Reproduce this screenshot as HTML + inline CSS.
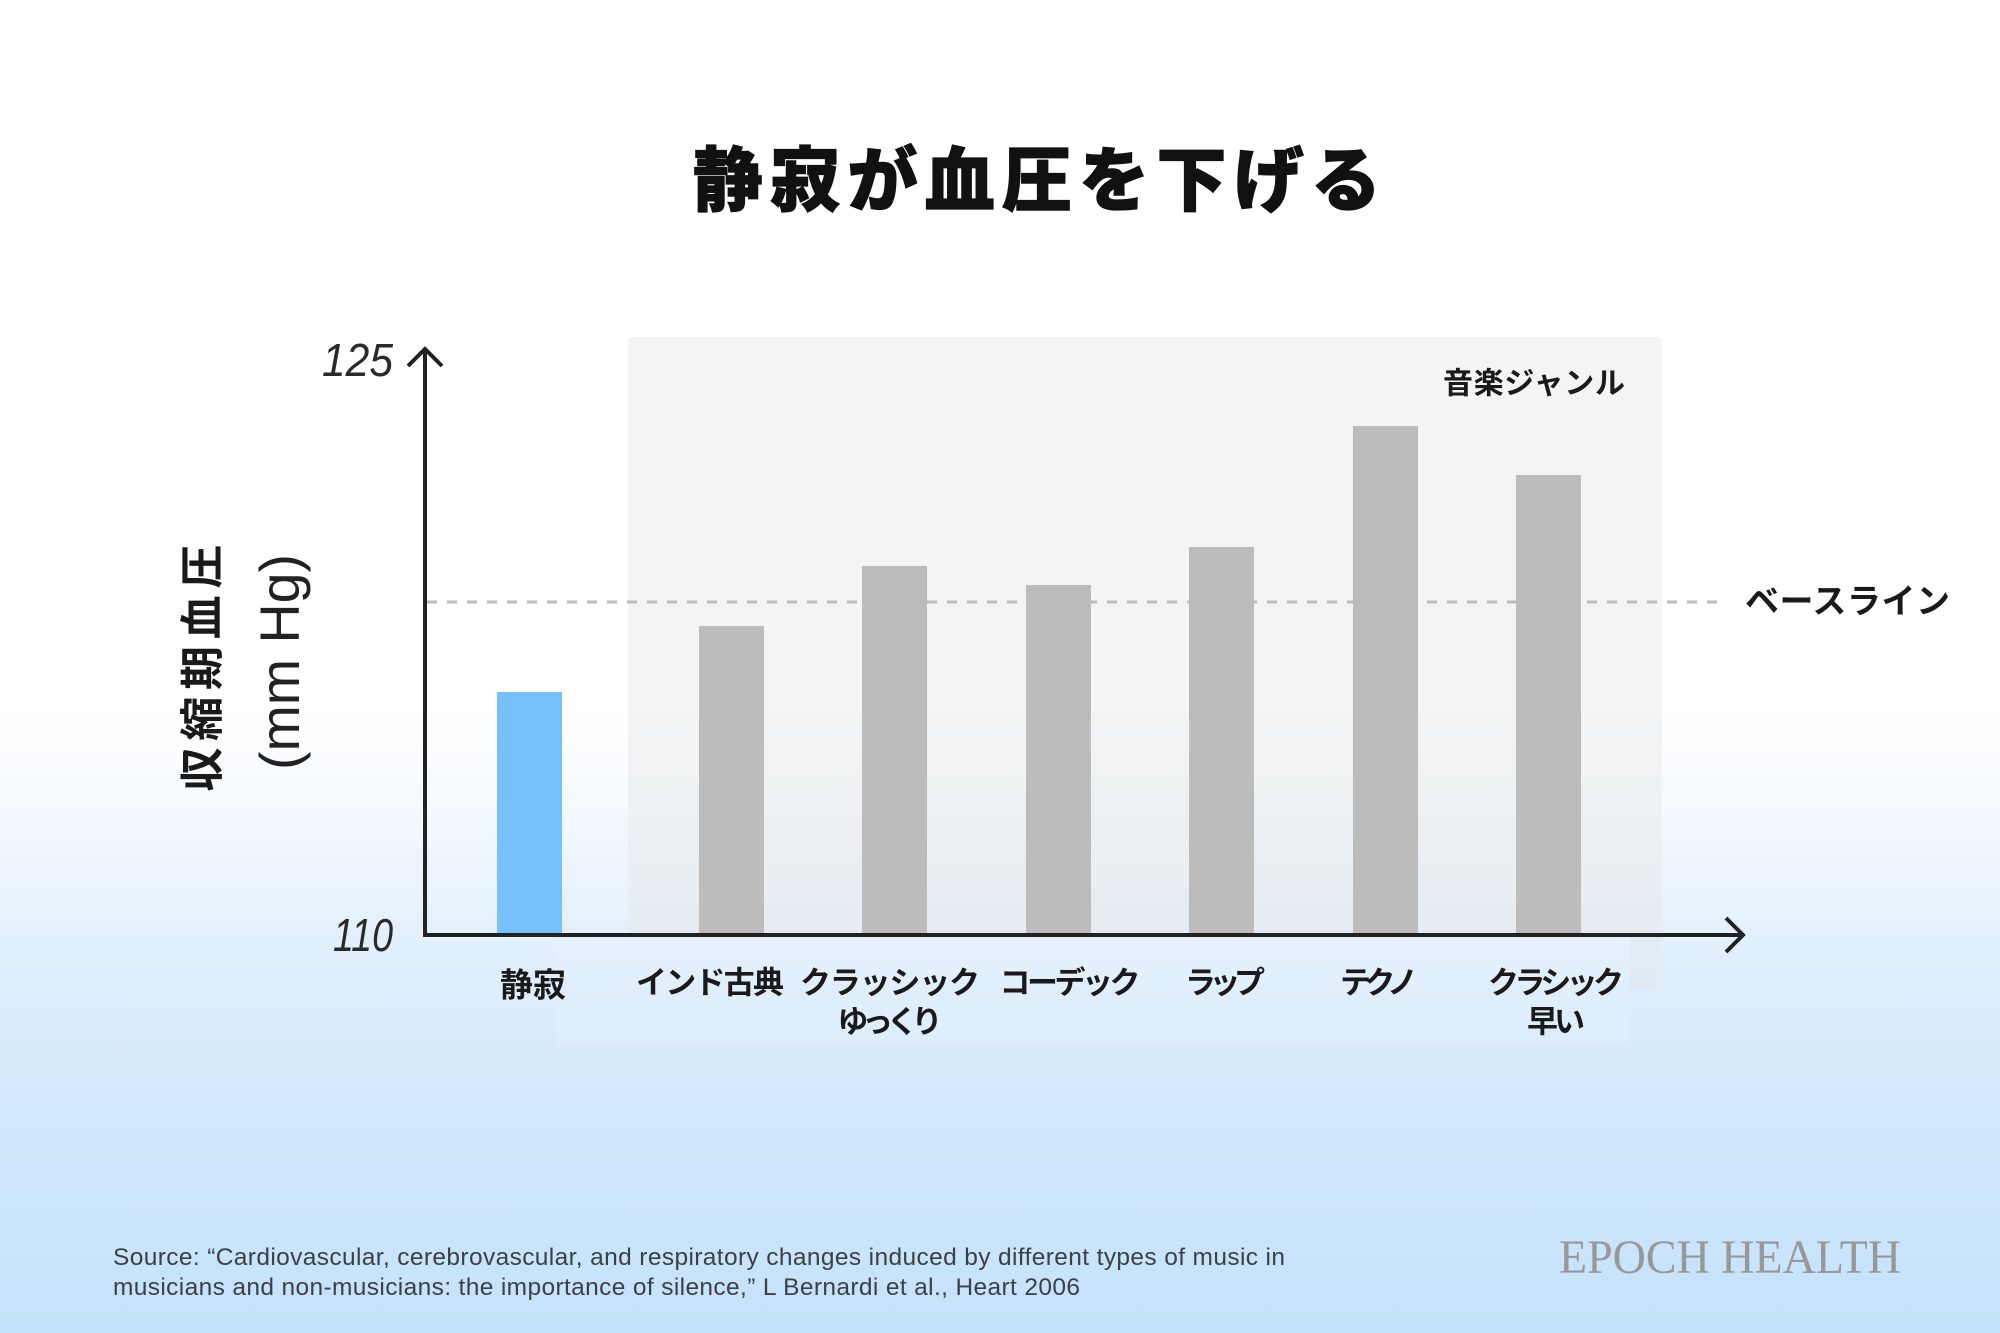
<!DOCTYPE html>
<html>
<head>
<meta charset="utf-8">
<style>
html,body{margin:0;padding:0;}
body{width:2000px;height:1333px;overflow:hidden;}
svg{display:block;}
.jp{font-family:"Liberation Sans","Noto Sans CJK JP",sans-serif;}
</style>
</head>
<body>
<svg width="2000" height="1333" viewBox="0 0 2000 1333" xmlns="http://www.w3.org/2000/svg">
<defs>
<linearGradient id="bg" x1="0" y1="0" x2="0" y2="1333" gradientUnits="userSpaceOnUse">
<stop offset="0" stop-color="#ffffff"/>
<stop offset="0.53" stop-color="#ffffff"/>
<stop offset="0.61" stop-color="#f3f9fe"/>
<stop offset="0.70" stop-color="#e3f0fc"/>
<stop offset="0.83" stop-color="#d2e8fb"/>
<stop offset="1" stop-color="#c4e2fb"/>
</linearGradient>
</defs>
<rect x="0" y="0" width="2000" height="1333" fill="url(#bg)"/>

<!-- title -->
<text class="jp" x="1037" y="181" text-anchor="middle" dominant-baseline="central" font-size="70" font-weight="900" fill="#111" stroke="#111" stroke-width="1.2" textLength="688" lengthAdjust="spacing">静寂が血圧を下げる</text>

<!-- genre panel -->
<rect x="628" y="337" width="1034" height="598" rx="4" fill="rgb(230,230,230)" fill-opacity="0.44"/>
<rect x="1630" y="937" width="32" height="52" fill="rgb(230,230,230)" fill-opacity="0.3"/>
<rect x="555" y="938" width="1075" height="108" fill="#ffffff" fill-opacity="0.1"/>

<text class="jp" x="1443" y="384" dominant-baseline="central" font-size="30" font-weight="700" fill="#1a1a1a" textLength="182" lengthAdjust="spacing">音楽ジャンル</text>

<!-- baseline dashed -->
<line x1="427" y1="602" x2="1725" y2="602" stroke="#bdbdbd" stroke-width="3" stroke-dasharray="10 10"/>
<text class="jp" x="1745" y="602" dominant-baseline="central" font-size="34" font-weight="700" fill="#1a1a1a" textLength="205" lengthAdjust="spacing">ベースライン</text>

<!-- bars -->
<rect x="497" y="692" width="65" height="243" fill="#76c1fb"/>
<rect x="699" y="626" width="65" height="309" fill="#bcbcbc"/>
<rect x="862" y="566" width="65" height="369" fill="#bcbcbc"/>
<rect x="1026" y="585" width="65" height="350" fill="#bcbcbc"/>
<rect x="1189" y="547" width="65" height="388" fill="#bcbcbc"/>
<rect x="1353" y="426" width="65" height="509" fill="#bcbcbc"/>
<rect x="1516" y="475" width="65" height="460" fill="#bcbcbc"/>

<!-- axes -->
<line x1="425" y1="349" x2="425" y2="937" stroke="#222" stroke-width="4"/>
<polyline points="408,366 425,349 442,366" fill="none" stroke="#222" stroke-width="4"/>
<line x1="423" y1="935" x2="1744" y2="935" stroke="#222" stroke-width="4"/>
<polyline points="1726,918 1743,935 1726,952" fill="none" stroke="#222" stroke-width="4"/>

<!-- tick labels -->
<text x="393" y="376" text-anchor="end" font-family="Liberation Sans, sans-serif" font-style="italic" font-size="46" fill="#2a2a2a" textLength="71" lengthAdjust="spacingAndGlyphs">125</text>
<text x="393" y="951" text-anchor="end" font-family="Liberation Sans, sans-serif" font-style="italic" font-size="46" fill="#2a2a2a" textLength="60" lengthAdjust="spacingAndGlyphs">110</text>

<!-- y label -->
<text class="jp" transform="translate(203,668) rotate(-90)" x="0" y="0" text-anchor="middle" dominant-baseline="central" font-size="44" font-weight="700" fill="#1a1a1a" textLength="247" lengthAdjust="spacing">収縮期血圧</text>
<text transform="translate(299,662) rotate(-90)" x="0" y="0" text-anchor="middle" font-family="Liberation Sans, sans-serif" font-size="56" fill="#222" textLength="216" lengthAdjust="spacingAndGlyphs">(mm Hg)</text>

<!-- category labels -->
<g class="jp" font-size="31" font-weight="700" fill="#1a1a1a" text-anchor="middle" dominant-baseline="central">
<text x="533" y="985" font-size="33">静寂</text>
<text x="710" y="983" textLength="148" lengthAdjust="spacing">インド古典</text>
<text x="890" y="983" textLength="180" lengthAdjust="spacing">クラッシック</text>
<text x="890" y="1022" textLength="105" lengthAdjust="spacing">ゆっくり</text>
<text x="1070" y="983" textLength="141" lengthAdjust="spacing">コーデック</text>
<text x="1225" y="983" textLength="80" lengthAdjust="spacing">ラップ</text>
<text x="1379" y="983" textLength="78" lengthAdjust="spacing">テクノ</text>
<text x="1556" y="983" textLength="136" lengthAdjust="spacing">クラシック</text>
<text x="1556" y="1022" textLength="58" lengthAdjust="spacing">早い</text>
</g>

<!-- source -->
<g font-family="Liberation Sans, sans-serif" font-size="24.5" fill="#3c4148">
<text x="113" y="1265" textLength="1172" lengthAdjust="spacing">Source: “Cardiovascular, cerebrovascular, and respiratory changes induced by different types of music in</text>
<text x="113" y="1295" textLength="967" lengthAdjust="spacing">musicians and non-musicians: the importance of silence,” L Bernardi et al., Heart 2006</text>
</g>

<!-- logo -->
<text x="1559" y="1273" font-family="Liberation Serif, serif" font-size="48" fill="#989898" textLength="342" lengthAdjust="spacingAndGlyphs">EPOCH HEALTH</text>
</svg>
</body>
</html>
